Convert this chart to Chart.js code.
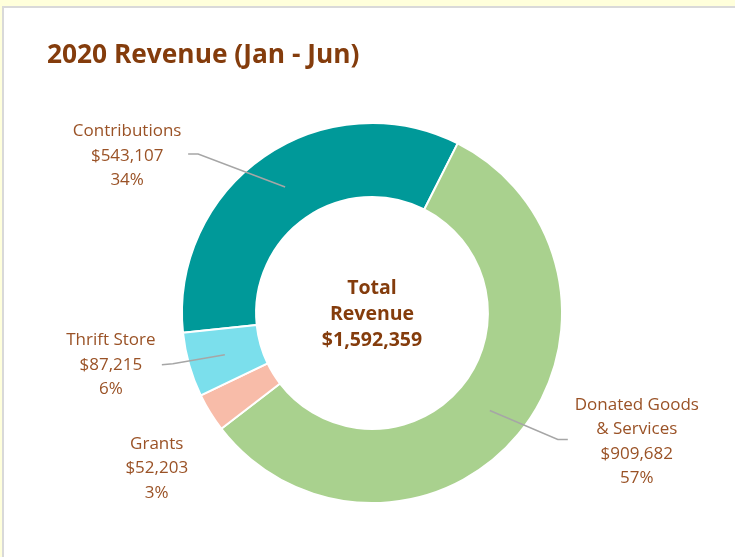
<!DOCTYPE html>
<html>
<head>
<meta charset="utf-8">
<script src="https://cdn.jsdelivr.net/npm/chart.js@4.4.0/dist/chart.umd.min.js"></script>
<style>
  html, body { margin: 0; padding: 0; background: #FFFFDB; }
  body { width: 735px; height: 557px; position: relative; overflow: hidden; }
  #panel { position: absolute; left: 2px; top: 6px; right: -10px; bottom: -10px; background: #fff;
           border-top: 2px solid #D9D9D9; border-left: 2px solid #D9D9D9; }
  #wrap { position: absolute; left: 0; top: 0; width: 735px; height: 557px; }
</style>
</head>
<body>
<div id="panel"></div>
<div id="wrap"><canvas id="revenueChart" width="735" height="557"></canvas></div>
<script>
// 2020 revenue, Jan - Jun
const categories = ['Contributions', 'Donated Goods & Services', 'Grants', 'Thrift Store'];
const labelLines = [['Contributions'], ['Donated Goods', '& Services'], ['Grants'], ['Thrift Store']];
const revenue = [543107, 909682, 52203, 87215];
const percentLabels = ['34%', '57%', '3%', '6%'];
const totalRevenue = 1592359;
const sliceColors = ['#009999', '#A9D18E', '#F8BCA9', '#7BDFEC'];

const titleColor = '#843C0C';
const labelColor = '#9A5226';

// where each data label sits, relative to its slice centroid, and the leader line bends
const labelOffsets = [
  { dx: -158, dy: -31, leader: [[-87, -33], [-97, -33]] },
  { dx: 147, dy: 31, leader: [[68, 29], [78, 29]] },
  { dx: -85, dy: 75, leader: null },
  { dx: -114, dy: 10, leader: [[-52, 9], [-63, 10]] }
];

const money = v => '$' + v.toLocaleString('en-US');

const doughnutLabels = {
  id: 'doughnutLabels',
  afterDatasetsDraw(chart) {
    const ctx = chart.ctx;
    const meta = chart.getDatasetMeta(0);
    ctx.save();

    // leader lines
    ctx.strokeStyle = '#A6A6A6';
    ctx.lineWidth = 1.5;
    meta.data.forEach((arc, i) => {
      const off = labelOffsets[i];
      if (!off.leader) return;
      const p = arc.tooltipPosition();
      ctx.beginPath();
      ctx.moveTo(p.x, p.y);
      off.leader.forEach(pt => ctx.lineTo(p.x + pt[0], p.y + pt[1]));
      ctx.stroke();
    });

    // data labels
    ctx.fillStyle = labelColor;
    ctx.font = '17px "Open Sans", sans-serif';
    ctx.textAlign = 'center';
    ctx.textBaseline = 'middle';
    const lh = 24.5;
    meta.data.forEach((arc, i) => {
      const p = arc.tooltipPosition();
      const off = labelOffsets[i];
      const lines = labelLines[i].concat([money(revenue[i]), percentLabels[i]]);
      const cx = p.x + off.dx;
      const cy = p.y + off.dy;
      lines.forEach((t, j) => {
        ctx.fillText(t, cx, cy + (j - (lines.length - 1) / 2) * lh);
      });
    });

    // centre text
    const c = meta.data[0];
    ctx.fillStyle = titleColor;
    ctx.font = 'bold 19.5px "Open Sans", sans-serif';
    ['Total', 'Revenue', money(totalRevenue)].forEach((t, j) => {
      ctx.fillText(t, c.x, c.y + 1 + (j - 1) * 26);
    });
    ctx.restore();
  }
};

const ctx = document.getElementById('revenueChart').getContext('2d');
const revenueChart = new Chart(ctx, {
  type: 'doughnut',
  data: {
    labels: categories,
    datasets: [{
      data: revenue,
      backgroundColor: sliceColors,
      borderColor: '#ffffff',
      borderWidth: 2
    }]
  },
  options: {
    responsive: false,
    animation: false,
    cutout: '61%',
    rotation: -96,
    layout: {
      padding: { left: 47, right: 38, top: 0, bottom: 53 }
    },
    plugins: {
      legend: { display: false },
      tooltip: { enabled: false },
      title: {
        display: true,
        text: '2020 Revenue (Jan - Jun)',
        align: 'start',
        color: titleColor,
        font: { family: 'Open Sans', size: 26.3, weight: 'bold' },
        padding: { top: 40.2, bottom: 50.2 }
      }
    }
  },
  plugins: [doughnutLabels]
});
</script>
</body>
</html>
